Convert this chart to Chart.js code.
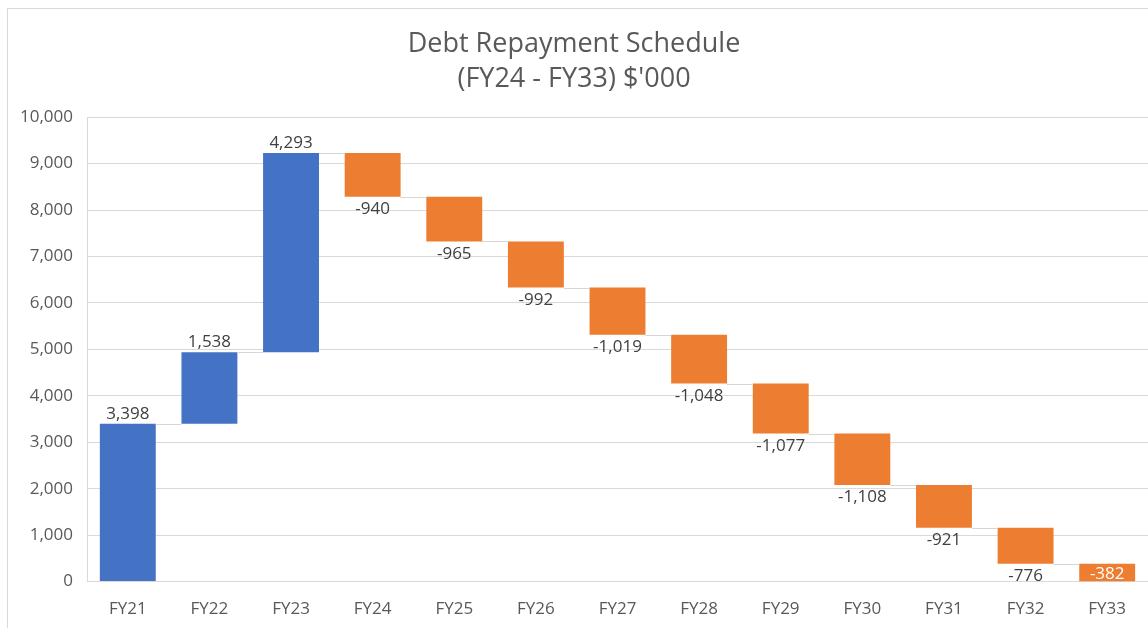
<!DOCTYPE html>
<html>
<head>
<meta charset="utf-8">
<script src="https://cdn.jsdelivr.net/npm/chart.js@4"></script>
<style>
  html, body { margin: 0; padding: 0; background: #fff; }
  #wrap { position: absolute; left: 0; top: 0; width: 1148px; height: 628px; }
</style>
</head>
<body>
<div id="wrap"><canvas id="myChart"></canvas></div>
<script>
const labels = ["FY21", "FY22", "FY23", "FY24", "FY25", "FY26", "FY27", "FY28", "FY29", "FY30", "FY31", "FY32", "FY33"];
const changes = [3398, 1538, 4293, -940, -965, -992, -1019, -1048, -1077, -1108, -921, -776, -382];
const yTicks = [0, 1000, 2000, 3000, 4000, 5000, 6000, 7000, 8000, 9000, 10000];

const blue = "#4472C4";
const orange = "#ED7D31";
const textGrey = "#595959";

// running totals -> floating bars
let total = 0;
const floating = changes.map((v) => {
  const start = total;
  total += v;
  return [start, total];
});

const fmt = (v) => v.toLocaleString("en-US");

// gray connectors between bars + value labels
const waterfallExtras = {
  id: "waterfallExtras",
  afterDatasetsDraw(chart) {
    const ctx = chart.ctx;
    const meta = chart.getDatasetMeta(0);
    const y = chart.scales.y;
    ctx.save();
    ctx.strokeStyle = "#d6d6d6";
    ctx.lineWidth = 1;
    for (let i = 0; i < meta.data.length - 1; i++) {
      const a = meta.data[i], b = meta.data[i + 1];
      const py = Math.round(y.getPixelForValue(floating[i][1])) + 0.5;
      ctx.beginPath();
      ctx.moveTo(a.x + a.width / 2, py);
      ctx.lineTo(b.x - b.width / 2, py);
      ctx.stroke();
    }
    ctx.font = "17px 'Open Sans'";
    ctx.textAlign = "center";
    meta.data.forEach((bar, i) => {
      const v = changes[i];
      const endY = y.getPixelForValue(floating[i][1]);
      if (v >= 0) {
        ctx.fillStyle = "#404040";
        ctx.textBaseline = "alphabetic";
        ctx.fillText(fmt(v), bar.x, endY - 5);
      } else if (endY + 10 > chart.chartArea.bottom) {
        // no room under the bar: label goes inside
        ctx.fillStyle = "#ffffff";
        ctx.textBaseline = "middle";
        const startY = y.getPixelForValue(floating[i][0]);
        ctx.fillText(fmt(v), bar.x, (startY + endY) / 2 + 1);
      } else {
        ctx.fillStyle = "#404040";
        ctx.textBaseline = "top";
        ctx.fillText(fmt(v), bar.x, endY + 4);
      }
    });
    ctx.restore();
  },
  beforeDraw(chart) {
    const ctx = chart.ctx;
    ctx.save();
    ctx.strokeStyle = "#d9d9d9";
    ctx.lineWidth = 1;
    ctx.beginPath();
    ctx.moveTo(7.5, 628);
    ctx.lineTo(7.5, 8.5);
    ctx.lineTo(1148, 8.5);
    ctx.stroke();
    ctx.restore();
  }
};

const myChart = new Chart(document.getElementById("myChart"), {
  type: "bar",
  data: {
    labels: labels,
    datasets: [
      {
        label: "Change",
        data: floating,
        backgroundColor: changes.map((v) => (v >= 0 ? blue : orange)),
        borderWidth: 0,
        categoryPercentage: 1,
        barPercentage: 0.685,
      },
    ],
  },
  options: {
    responsive: true,
    maintainAspectRatio: false,
    animation: false,
    layout: { padding: { top: 0, left: 0, right: 0, bottom: -8 } },
    plugins: {
      legend: { display: false },
      tooltip: { enabled: false },
      title: {
        display: true,
        text: ["Debt Repayment Schedule", "(FY24 - FY33) $'000"],
        color: textGrey,
        font: { family: "'Open Sans'", size: 27, weight: "normal", lineHeight: 1.3 },
        padding: { top: 27, bottom: 20 },
      },
    },
    scales: {
      x: {
        grid: { display: false, drawTicks: false },
        border: { color: "#d9d9d9" },
        ticks: {
          color: textGrey,
          padding: 17,
          font: { family: "'Open Sans'", size: 17 },
        },
      },
      y: {
        min: 0,
        max: 10000,
        afterBuildTicks(scale) {
          scale.ticks = yTicks.map((v) => ({ value: v }));
        },
        afterFit(scale) {
          scale.width = 87;
        },
        grid: { color: "#d9d9d9", drawTicks: false },
        border: { color: "#d9d9d9" },
        ticks: {
          color: textGrey,
          padding: 14,
          font: { family: "'Open Sans'", size: 17 },
          callback: (v) => fmt(v),
        },
      },
    },
  },
  plugins: [waterfallExtras],
});
</script>
</body>
</html>
